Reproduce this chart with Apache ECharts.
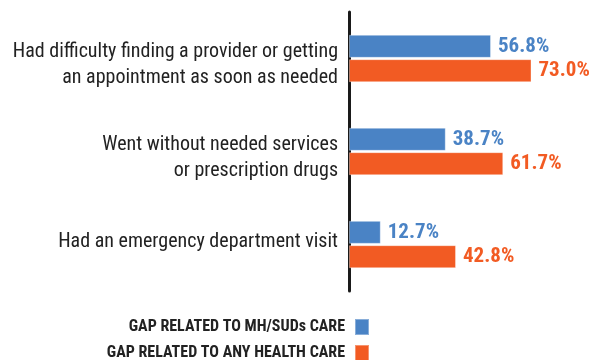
<!DOCTYPE html>
<html>
<head>
<meta charset="utf-8">
<script src="https://cdn.jsdelivr.net/npm/echarts@6/dist/echarts.min.js"></script>
<style>html,body{margin:0;padding:0;background:#fff}#c{width:593px;height:360px}</style>
</head>
<body>
<div id="c"></div>
<script>
const categories = [
  "Had difficulty finding a provider or getting\nan appointment as soon as needed",
  "Went without needed services\nor prescription drugs",
  "Had an emergency department visit"
];
const seriesNames = ["GAP RELATED TO MH/SUDs CARE", "GAP RELATED TO ANY HEALTH CARE"];
const mhValues = [56.8, 38.7, 12.7];
const anyValues = [73.0, 61.7, 42.8];
const colors = ["#4a83c5", "#f25b23"];
const FONT = "'Roboto Condensed', 'Liberation Sans Narrow', sans-serif";

const chart = echarts.init(document.getElementById('c'));
function labelCfg(c){
  return {show:true, position:'right', distance:7, color:c, fontFamily:FONT, fontWeight:'bold', fontSize:21,
    formatter: p => p.value.toFixed(1) + '%'};
}
chart.setOption({
  animation:false,
  grid:{left:349, right:44, top:12, bottom:69, containLabel:false, outerBoundsMode:'none'},
  xAxis:{type:'value', min:0, max:80, show:false},
  yAxis:{type:'category', inverse:true, data:categories,
    axisLine:{show:true, lineStyle:{color:'#1a1a1a', width:3}},
    axisTick:{show:false},
    axisLabel:{color:'#222', fontFamily:FONT, fontSize:20, lineHeight:26, margin:11, align:'right',
      formatter: v => v.indexOf('\n') >= 0 ? '{gtop| }\n' + v : v + '\n{gbot| }',
      rich:{gtop:{lineHeight:13, fontSize:4}, gbot:{lineHeight:6, fontSize:4}}
    }
  },
  legend:[
    {data:[seriesNames[0]], right:218, top:313, itemWidth:14, itemHeight:16, align:'right', selectedMode:false, icon:'rect',
     textStyle:{color:'#222', fontFamily:FONT, fontWeight:'bold', fontSize:16, padding:[0,5,0,0]}},
    {data:[seriesNames[1]], right:218, top:339, itemWidth:14, itemHeight:16, align:'right', selectedMode:false, icon:'rect',
     textStyle:{color:'#222', fontFamily:FONT, fontWeight:'bold', fontSize:16, padding:[0,5,0,0]}}
  ],
  series:[
    {name:seriesNames[0], type:'bar', data:mhValues, barWidth:23, barGap:'6%', itemStyle:{color:colors[0], borderColor:'rgba(255,255,255,0.35)', borderWidth:1}, label:labelCfg(colors[0])},
    {name:seriesNames[1], type:'bar', data:anyValues, barWidth:23, barGap:'6%', itemStyle:{color:colors[1], borderColor:'rgba(255,255,255,0.35)', borderWidth:1}, label:labelCfg(colors[1])}
  ]
});
</script>
</body>
</html>
